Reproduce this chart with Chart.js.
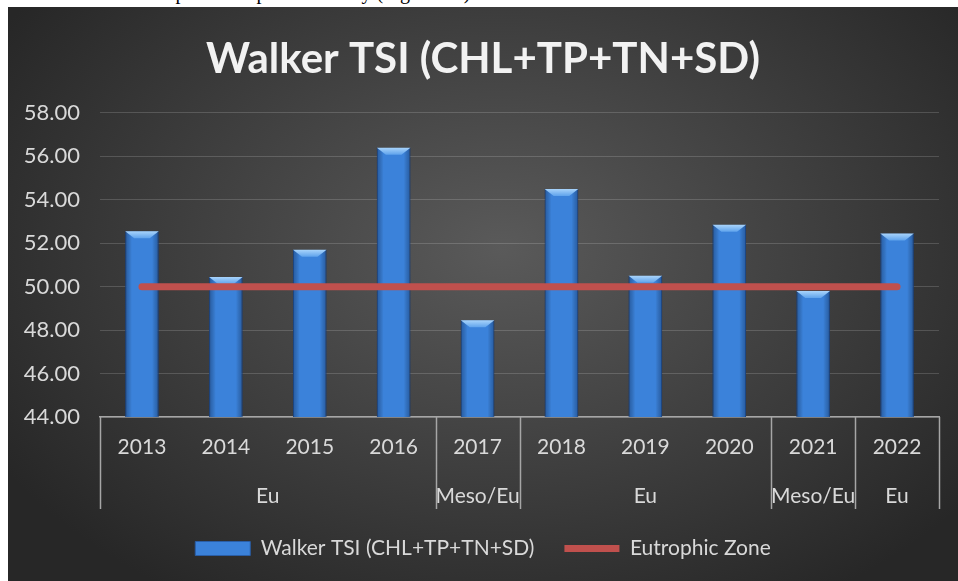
<!DOCTYPE html>
<html>
<head>
<meta charset="utf-8">
<script src="https://cdn.jsdelivr.net/npm/chart.js@4.4.1/dist/chart.umd.min.js"></script>
<style>
  html, body { margin: 0; padding: 0; background: #fff; }
  body { width: 958px; height: 581px; position: relative; overflow: hidden; }
  #docline {
    position: absolute; left: 0; top: 0; width: 958px; height: 7px; overflow: hidden;
  }
  #docline span {
    position: absolute; left: 0; top: -19px; white-space: nowrap;
    font-family: "Liberation Serif", serif; font-size: 20px; color: #000;
  }
  #panel {
    position: absolute; left: 8px; top: 7px; width: 950px; height: 574px;
    background: radial-gradient(ellipse 62% 72% at 52% 42%, #5a5a5a 0%, #3e3e3e 55%, #272727 100%);
  }
</style>
</head>
<body>
<div id="docline"><span>level is at the mesotrophic/eutrophic boundary (Figure 3C).</span></div>
<div id="panel"><canvas id="tsiChart" width="950" height="574"></canvas></div>
<script>
// values
const years = ['2013', '2014', '2015', '2016', '2017', '2018', '2019', '2020', '2021', '2022'];
const walkerTsi = [52.55, 50.45, 51.7, 56.4, 48.45, 54.5, 50.5, 52.85, 49.8, 52.45];
const eutrophicZone = [50, 50, 50, 50, 50, 50, 50, 50, 50, 50];
const groupNames = ['Eu', 'Meso/Eu', 'Eu', 'Meso/Eu', 'Eu'];
const groupSpans = [4, 1, 3, 1, 1];

const textColor = '#d9d9d9';
const fontFamily = 'Lato, "Open Sans", sans-serif';

// side shading and lighter bevel on top of each bar
const bevelPlugin = {
    id: 'bevel',
    afterDatasetDraw(chart, args) {
        if (args.index !== 0) return;
        const c = chart.ctx;
        const area = chart.chartArea;
        c.save();
        c.beginPath();
        c.rect(area.left, area.top, area.right - area.left, area.bottom - area.top);
        c.clip();
        args.meta.data.forEach(bar => {
            const p = bar.getProps(['x', 'y', 'width', 'base'], true);
            const l = p.x - p.width / 2, r = p.x + p.width / 2;
            const g = c.createLinearGradient(l, 0, r, 0);
            g.addColorStop(0, 'rgba(0,20,60,0.35)');
            g.addColorStop(0.2, 'rgba(0,0,0,0)');
            g.addColorStop(0.8, 'rgba(0,0,0,0)');
            g.addColorStop(1, 'rgba(0,20,60,0.35)');
            c.fillStyle = g;
            c.fillRect(l, p.y, p.width, area.bottom - p.y);
            const h = 7;
            const tg = c.createLinearGradient(0, p.y, 0, p.y + h);
            tg.addColorStop(0, '#a9d4fb');
            tg.addColorStop(1, '#5fa3ec');
            c.fillStyle = tg;
            c.beginPath();
            c.moveTo(l, p.y);
            c.lineTo(r, p.y);
            c.lineTo(r - 9, p.y + h);
            c.lineTo(l + 9, p.y + h);
            c.closePath();
            c.fill();
        });
        c.restore();
    }
};

// second row of category axis: group labels and separators
const groupAxisPlugin = {
    id: 'groupAxis',
    afterDraw(chart) {
        const x = chart.scales.x;
        const c = chart.ctx;
        const top = x.top;
        const bottom = x.top + 92;
        const edge = i => {
            if (i <= 0) return x.left;
            if (i >= years.length) return x.right;
            return (x.getPixelForValue(i - 1) + x.getPixelForValue(i)) / 2;
        };
        c.save();
        c.strokeStyle = '#a6a6a6';
        c.lineWidth = 1.5;
        c.fillStyle = textColor;
        c.font = '21px ' + fontFamily;
        c.textAlign = 'center';
        c.textBaseline = 'middle';
        let start = 0;
        const bounds = [0];
        groupSpans.forEach((span, gi) => {
            const a = edge(start), b = edge(start + span);
            c.fillText(groupNames[gi], (a + b) / 2, top + 79);
            start += span;
            bounds.push(start);
        });
        bounds.forEach(i => {
            const px = Math.round(edge(i)) + 0.5;
            c.beginPath();
            c.moveTo(px, top);
            c.lineTo(px, bottom);
            c.stroke();
        });
        c.restore();
    }
};

const chart = new Chart(document.getElementById('tsiChart').getContext('2d'), {
    data: {
        labels: years,
        datasets: [{
            type: 'bar',
            label: 'Walker TSI (CHL+TP+TN+SD)',
            data: walkerTsi,
            backgroundColor: '#3b82da',
            borderColor: '#2a5ea6',
            borderWidth: 1,
            barPercentage: 0.4,
            categoryPercentage: 1,
            pointStyle: 'rect',
            order: 1
        }, {
            type: 'line',
            label: 'Eutrophic Zone',
            data: eutrophicZone,
            borderColor: '#c0504d',
            backgroundColor: '#c0504d',
            borderWidth: 7,
            borderCapStyle: 'round',
            pointRadius: 0,
            pointStyle: 'line',
            order: 0
        }]
    },
    options: {
        responsive: false,
        animation: false,
        layout: { padding: { left: 0, right: 0, top: 0, bottom: 12 } },
        plugins: {
            title: {
                display: true,
                text: 'Walker TSI (CHL+TP+TN+SD)',
                color: '#f2f2f2',
                font: { family: fontFamily, size: 42, weight: 'bold' },
                padding: { top: 27, bottom: 28.5 }
            },
            legend: {
                position: 'bottom',
                labels: {
                    color: textColor,
                    font: { family: fontFamily, size: 21 },
                    usePointStyle: true,
                    pointStyleWidth: 55,
                    boxHeight: 14,
                    padding: 30,
                    sort: (a, b) => a.datasetIndex - b.datasetIndex
                }
            },
            tooltip: { enabled: false }
        },
        scales: {
            x: {
                grid: { display: false },
                border: { display: true, color: '#a6a6a6', width: 1.5 },
                ticks: { color: textColor, font: { family: fontFamily, size: 21 }, padding: 10 },
                afterFit(scale) { scale.height = 91; }
            },
            y: {
                min: 44,
                max: 58,
                grid: { color: 'rgba(255,255,255,0.16)', drawTicks: false },
                border: { display: false },
                ticks: {
                    stepSize: 2,
                    color: textColor,
                    font: { family: fontFamily, size: 22 },
                    padding: 20,
                    callback: v => v.toFixed(2)
                },
                afterFit(scale) { scale.width = 92; }
            },
            // empty right margin so title and legend centre on the whole panel
            yRight: {
                position: 'right',
                grid: { display: false },
                border: { display: false },
                ticks: { display: false },
                afterFit(scale) { scale.width = 19; }
            }
        }
    },
    plugins: [bevelPlugin, groupAxisPlugin]
});
</script>
</body>
</html>
